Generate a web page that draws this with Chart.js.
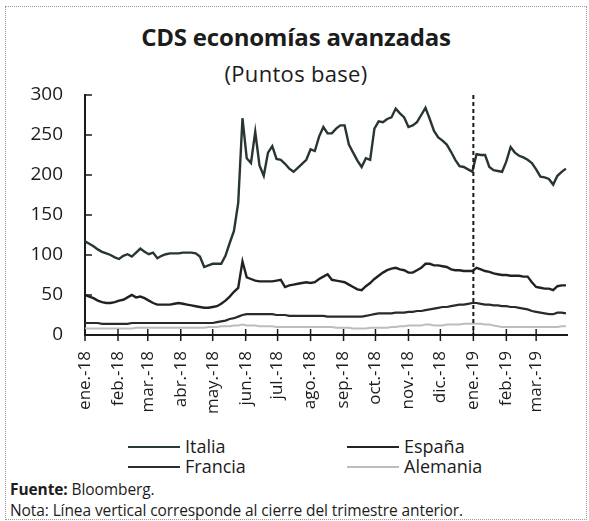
<!DOCTYPE html>
<html>
<head>
<meta charset="utf-8">
<script src="https://cdn.jsdelivr.net/npm/chart.js@4/dist/chart.umd.min.js"></script>
<style>
  body { margin: 0; background: #fff; font-family: "Open Sans", sans-serif; color: #1c1c1c; }
  #wrap { position: relative; width: 589px; height: 521px; overflow: hidden; }
  #frame { position: absolute; left: 5px; top: 6px; width: 582px; height: 514px; border: 1px dotted #9a9a9a; box-sizing: border-box; }
  #chart { position: absolute; left: 0; top: 0; }
  .title { position: absolute; left: 0; width: 592px; text-align: center; white-space: nowrap; }
  #t1 { top: 20px; font-size: 24px; font-weight: 700; letter-spacing: -0.2px; }
  #t2 { top: 58px; font-size: 22px; letter-spacing: 0.3px; }
  .leg { position: absolute; font-size: 18px; line-height: 20px; white-space: nowrap; }
  .leg span { display: inline-block; width: 52px; height: 2px; vertical-align: middle; margin-right: 5px; position: relative; top: -1px; }
  .note { position: absolute; left: 10px; font-size: 15.5px; white-space: nowrap; letter-spacing: -0.1px; }
</style>
</head>
<body>
<div id="wrap">
  <div id="frame"></div>
  <div class="title" id="t1">CDS economías avanzadas</div>
  <div class="title" id="t2">(Puntos base)</div>
  <canvas id="chart" width="589" height="430"></canvas>
  <div class="leg" style="left:128px;top:436px"><span style="background:#2b3833"></span>Italia</div>
  <div class="leg" style="left:347px;top:436px"><span style="background:#242424"></span>España</div>
  <div class="leg" style="left:128px;top:456px"><span style="background:#2a302d"></span>Francia</div>
  <div class="leg" style="left:347px;top:456px"><span style="background:#bdbdbd"></span>Alemania</div>
  <div class="note" style="top:478px"><b>Fuente:</b> Bloomberg.</div>
  <div class="note" style="top:499px">Nota: Línea vertical corresponde al cierre del trimestre anterior.</div>
</div>
<script>
// días desde el 1 de enero de 2018 (muestreo cada 4 días)
const days = [
  0, 4, 8, 12, 16, 20, 24, 28, 32, 36, 40, 44, 48, 52, 56, 60, 64, 68, 72, 76,
  80, 84, 88, 92, 96, 100, 104, 108, 112, 116, 120, 124, 128, 132, 136, 140, 144, 148, 152, 156,
  160, 164, 168, 172, 176, 180, 184, 188, 192, 196, 200, 204, 208, 212, 216, 220, 224, 228, 232, 236,
  240, 244, 248, 252, 256, 260, 264, 268, 272, 276, 280, 284, 288, 292, 296, 300, 304, 308, 312, 316,
  320, 324, 328, 332, 336, 340, 344, 348, 352, 356, 360, 364, 368, 372, 376, 380, 384, 388, 392, 396,
  400, 404, 408, 412, 416, 420, 424, 428, 432, 436, 440, 444, 448, 452
];

const italia = [
  117, 114, 111, 107, 104, 102, 100, 97, 95, 99,
  101, 98, 103, 108, 104, 101, 103, 96, 99, 101,
  102, 102, 102, 103, 103, 103, 102, 98, 85, 87,
  89, 89, 89, 99, 115, 130, 165, 271, 221, 215,
  254, 212, 199, 228, 236, 220, 219, 214, 208, 204,
  209, 214, 219, 232, 230, 248, 260, 252, 252, 258,
  262, 262, 238, 228, 218, 210, 221, 219, 258, 267,
  266, 270, 272, 283, 277, 272, 260, 262, 266, 275,
  284, 270, 255, 247, 243, 238, 229, 219, 211, 210,
  207, 204, 226, 225, 225, 210, 206, 205, 204, 217,
  235, 228, 224, 222, 219, 215, 207, 198, 197, 195,
  188, 199, 204, 208
];

const espana = [
  50, 48, 46, 43, 41, 40, 40, 41, 43, 44,
  47, 50, 47, 48, 46, 43, 40, 38, 38, 38,
  38, 39, 40, 39, 38, 37, 36, 35, 34, 34,
  35, 36, 39, 43, 48, 54, 59, 92, 72, 70,
  68, 67, 67, 67, 67, 68, 69, 60, 62, 63,
  64, 65, 66, 65, 66, 70, 73, 76, 69, 68,
  67, 66, 63, 60, 57, 56, 61, 65, 70, 74,
  78, 81, 83, 84, 82, 81, 78, 78, 81, 84,
  89, 89, 87, 87, 86, 85, 82, 81, 81, 80,
  80, 80, 84, 82, 80, 79, 77, 76, 75, 75,
  74, 74, 74, 73, 73, 66, 60, 59, 58, 58,
  56, 61, 62, 62
];

const francia = [
  15, 15, 15, 15, 14, 14, 14, 14, 14, 14,
  14, 15, 15, 15, 15, 15, 15, 15, 15, 15,
  15, 15, 15, 15, 15, 15, 15, 15, 15, 15,
  15, 16, 17, 18, 20, 21, 23, 25, 26, 26,
  26, 26, 26, 26, 26, 25, 25, 25, 24, 24,
  24, 24, 24, 24, 24, 24, 24, 23, 23, 23,
  23, 23, 23, 23, 23, 23, 24, 25, 26, 27,
  27, 27, 27, 28, 28, 28, 29, 29, 30, 30,
  31, 32, 33, 34, 35, 35, 36, 37, 38, 38,
  39, 40, 40, 39, 38, 38, 37, 37, 36, 36,
  35, 35, 34, 33, 32, 30, 29, 28, 27, 26,
  26, 28, 28, 27
];

const alemania = [
  8, 8, 8, 8, 8, 8, 8, 8, 8, 8,
  8, 8, 9, 9, 9, 9, 9, 9, 9, 9,
  9, 9, 9, 9, 9, 9, 9, 9, 9, 10,
  10, 10, 11, 11, 11, 12, 12, 13, 12, 12,
  12, 11, 11, 11, 11, 10, 10, 10, 10, 10,
  10, 10, 10, 10, 10, 10, 10, 10, 10, 9,
  9, 9, 9, 8, 8, 8, 8, 9, 9, 9,
  9, 9, 10, 10, 11, 11, 12, 12, 12, 12,
  13, 13, 12, 12, 12, 13, 13, 13, 13, 14,
  14, 14, 14, 14, 13, 13, 12, 11, 10, 10,
  10, 10, 10, 10, 10, 10, 10, 10, 10, 10,
  10, 10, 11, 11
];

// inicio de cada mes (días desde 1-ene-2018) y sus etiquetas
const monthDays = [0, 31, 59, 90, 120, 151, 181, 212, 243, 273, 304, 334, 365, 396, 424];
const monthLabels = ['ene.-18', 'feb.-18', 'mar.-18', 'abr.-18', 'may.-18', 'jun.-18', 'jul.-18',
  'ago.-18', 'sep.-18', 'oct.-18', 'nov.-18', 'dic.-18', 'ene.-19', 'feb.-19', 'mar.-19'];
const quarterEnd = 365; // línea vertical: cierre del trimestre anterior

const toPoints = vals => vals.map((v, i) => ({ x: days[i], y: v }));

// marcas de los ejes y línea vertical punteada
const axisMarks = {
  id: 'axisMarks',
  afterDraw(chart) {
    const { ctx, chartArea, scales } = chart;
    ctx.save();
    ctx.strokeStyle = '#1a1a1a';
    ctx.lineWidth = 1.5;
    scales.y.ticks.forEach(t => {
      const y = scales.y.getPixelForValue(t.value);
      ctx.beginPath();
      ctx.moveTo(chartArea.left, y);
      ctx.lineTo(chartArea.left + 7, y);
      ctx.stroke();
    });
    monthDays.forEach(d => {
      const x = scales.x.getPixelForValue(d);
      ctx.beginPath();
      ctx.moveTo(x, chartArea.bottom - 6);
      ctx.lineTo(x, chartArea.bottom + 6);
      ctx.stroke();
    });
    const qx = scales.x.getPixelForValue(quarterEnd);
    ctx.setLineDash([4, 3]);
    ctx.lineWidth = 2;
    ctx.beginPath();
    ctx.moveTo(qx, chartArea.top);
    ctx.lineTo(qx, chartArea.bottom);
    ctx.stroke();
    ctx.restore();
  }
};

const line = (label, vals, color, width) => ({
  label,
  data: toPoints(vals),
  borderColor: color,
  borderWidth: width,
  pointRadius: 0,
  tension: 0,
  fill: false
});

new Chart(document.getElementById('chart'), {
  type: 'line',
  data: {
    datasets: [
      line('Alemania', alemania, '#bdbdbd', 2),
      line('Francia', francia, '#262c29', 2.2),
      line('España', espana, '#222222', 2.4),
      line('Italia', italia, '#283630', 2.4)
    ]
  },
  options: {
    responsive: false,
    animation: false,
    layout: { padding: { top: 95, right: 22, left: 0, bottom: 0 } },
    plugins: { legend: { display: false }, tooltip: { enabled: false } },
    scales: {
      x: {
        type: 'linear',
        min: 0,
        max: 453,
        afterBuildTicks: scale => { scale.ticks = monthDays.map(v => ({ value: v })); },
        afterFit: scale => { scale.height = 95; },
        grid: { display: false },
        border: { display: true, color: '#1a1a1a', width: 2 },
        ticks: {
          autoSkip: false,
          minRotation: 90,
          maxRotation: 90,
          padding: 8,
          color: '#1c1c1c',
          font: { family: 'Open Sans', size: 17 },
          callback: (v, i) => monthLabels[i]
        }
      },
      y: {
        min: 0,
        max: 300,
        afterFit: scale => { scale.width = 85; },
        grid: { display: false },
        border: { display: true, color: '#1a1a1a', width: 2 },
        ticks: {
          stepSize: 50,
          padding: 14,
          color: '#1c1c1c',
          font: { family: 'Open Sans', size: 19 }
        }
      }
    }
  },
  plugins: [axisMarks]
});
</script>
</body>
</html>
